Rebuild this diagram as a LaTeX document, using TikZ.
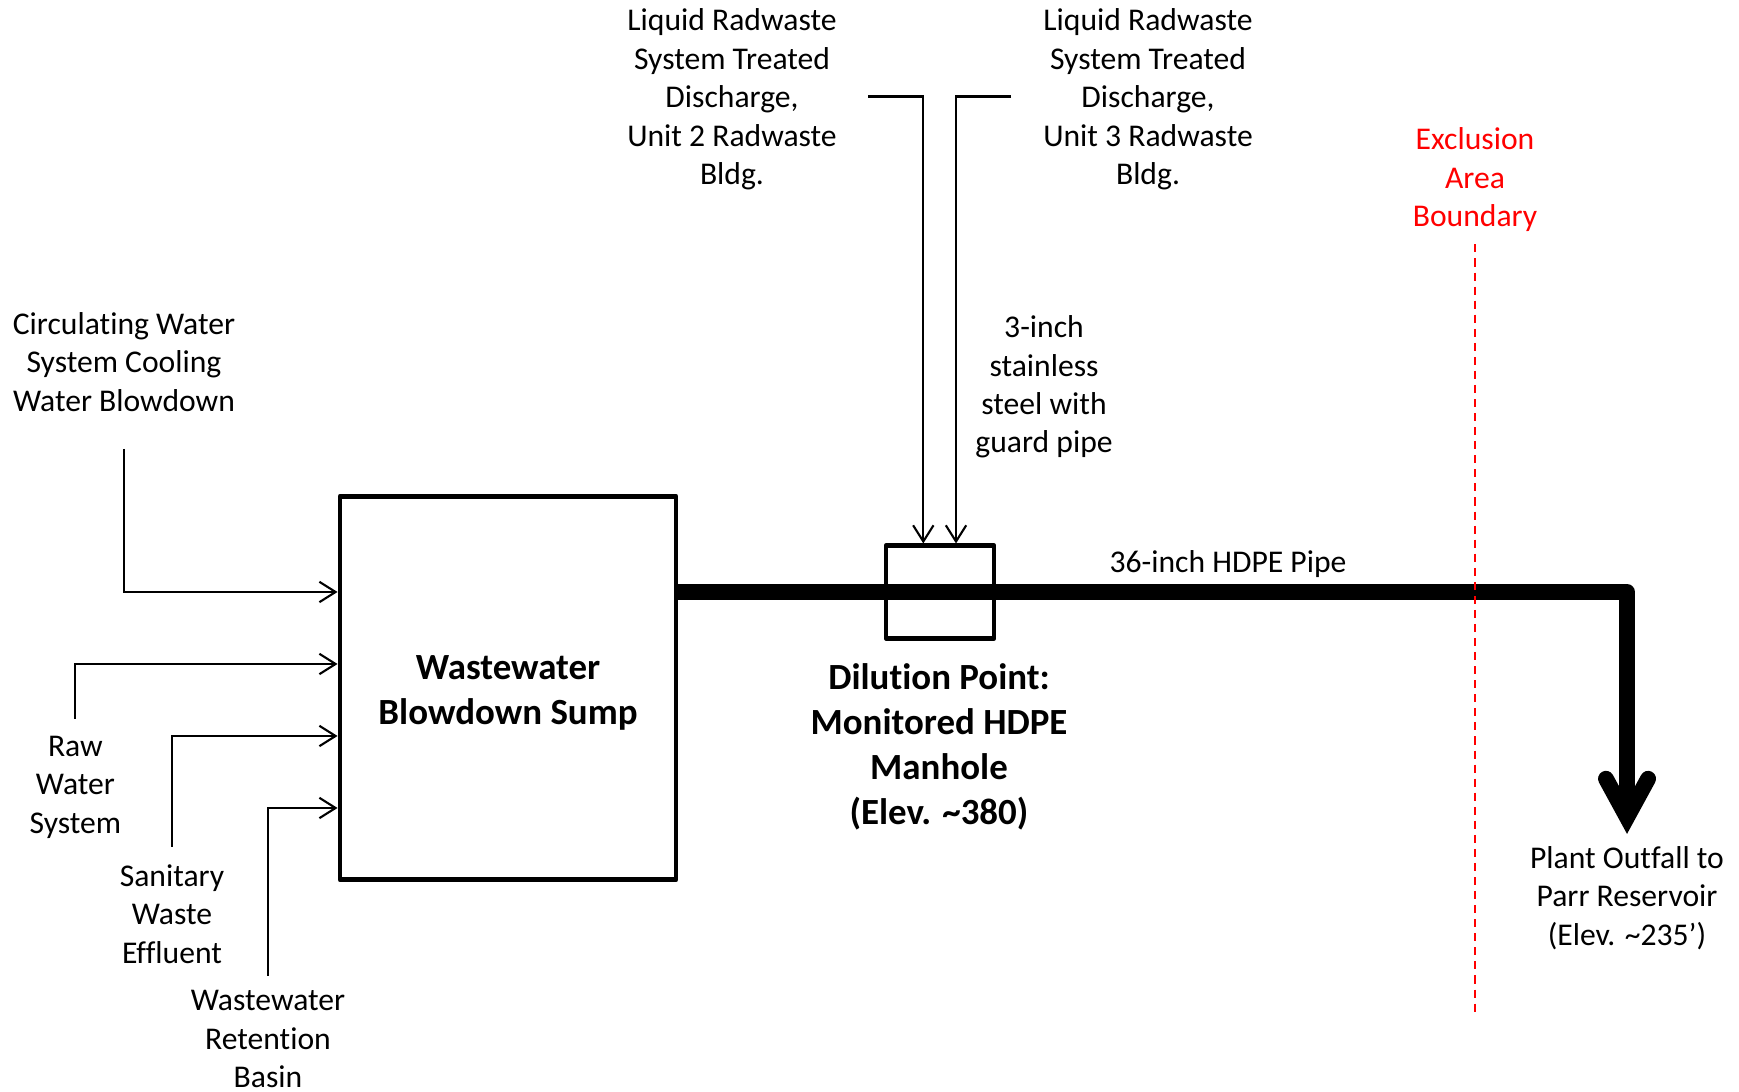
\documentclass[tikz,border=0pt]{standalone}
\usepackage{fontspec}
\setmainfont[Ligatures=NoCommon]{Carlito}
\usetikzlibrary{arrows.meta}

\begin{document}
\begin{tikzpicture}[x=1cm,y=1cm,font=\fontsize{9}{10.95}\selectfont,
  lbl/.style={align=center},
  boldlbl/.style={align=center,font=\fontsize{10.5}{12.8}\selectfont\bfseries},
  tank/.style={draw,line width=1.4pt,line join=round},
  manhole/.style={draw,line width=1.3pt,line join=round,
    minimum width=1.08cm,minimum height=0.925cm},
  feed/.style={line width=0.6pt,-{Straight Barb[length=4.6pt,width=5.8pt]}},
  pipe/.style={line width=4.5pt,line join=round,
    -{Straight Barb[line cap=round,line join=miter,length=11pt,width=12pt]}},
  boundary/.style={red,line width=0.6pt,dash pattern=on 2.3pt off 1.7pt}]
  \useasboundingbox (0,0) rectangle (17.39,10.92);
  % sources
  \node[lbl] (circ) at (1.24,7.30) {Circulating Water\\System Cooling\\Water Blowdown};
  \node[lbl] (raw) at (0.754,3.05) {Raw\\Water\\System};
  \node[lbl] (san) at (1.72,1.78) {Sanitary\\Waste\\Effluent};
  \node[lbl] (basin) at (2.68,0.53) {Wastewater\\Retention\\Basin};
  \coordinate (circ-out) at (1.24,6.43);
  \coordinate (raw-out) at (0.754,3.73);
  \coordinate (san-out) at (1.72,2.45);
  \coordinate (basin-out) at (2.68,1.16);
  % sump
  \node[tank,minimum width=3.36cm,minimum height=3.835cm] (sump) at (5.08,4.04) {};
  \node[boldlbl] (sumplbl) at (5.08,3.995) {Wastewater\\Blowdown Sump};
  \foreach \src/\y in {circ-out/5.00,raw-out/4.28,san-out/3.56,basin-out/2.84}
    \draw[feed] (\src) |- (sump.west |- 0,\y);
  % radwaste lines
  \node[lbl] (rw2) at (7.32,9.924) {Liquid Radwaste\\System Treated\\Discharge,\\Unit 2 Radwaste\\Bldg.};
  \node[lbl] (rw3) at (11.48,9.924) {Liquid Radwaste\\System Treated\\Discharge,\\Unit 3 Radwaste\\Bldg.};
  \node[lbl] (ss) at (10.44,7.05) {3-inch\\stainless\\steel with\\guard pipe};
  \coordinate (rw2-out) at (8.68,9.955);
  \coordinate (rw3-out) at (10.11,9.955);
  \node[manhole] (mh) at (9.40,5.00) {};
  \draw[feed] (rw2-out) -| ([xshift=-0.167cm]mh.north);
  \draw[feed] (rw3-out) -| ([xshift=0.16cm]mh.north);
  \node[boldlbl] (dil) at (9.39,3.45)
    {Dilution Point:\\Monitored HDPE\\Manhole\\(Elev. \textasciitilde380)};
  % outfall
  \node[lbl] (hdpe) at (12.28,5.28) {36-inch HDPE Pipe};
  \node[lbl] (outfall) at (16.27,1.94) {Plant Outfall to\\Parr Reservoir\\(Elev. \textasciitilde235’)};
  \draw[pipe] (sump.east |- mh.center) -| (outfall.north);
  % boundary
  \node[lbl,text=red] (eab) at (14.75,9.12) {Exclusion\\Area\\Boundary};
  \coordinate (eab-end) at (14.75,0.75);
  \draw[boundary] (eab.south) -- (eab-end);
\end{tikzpicture}
\end{document}
